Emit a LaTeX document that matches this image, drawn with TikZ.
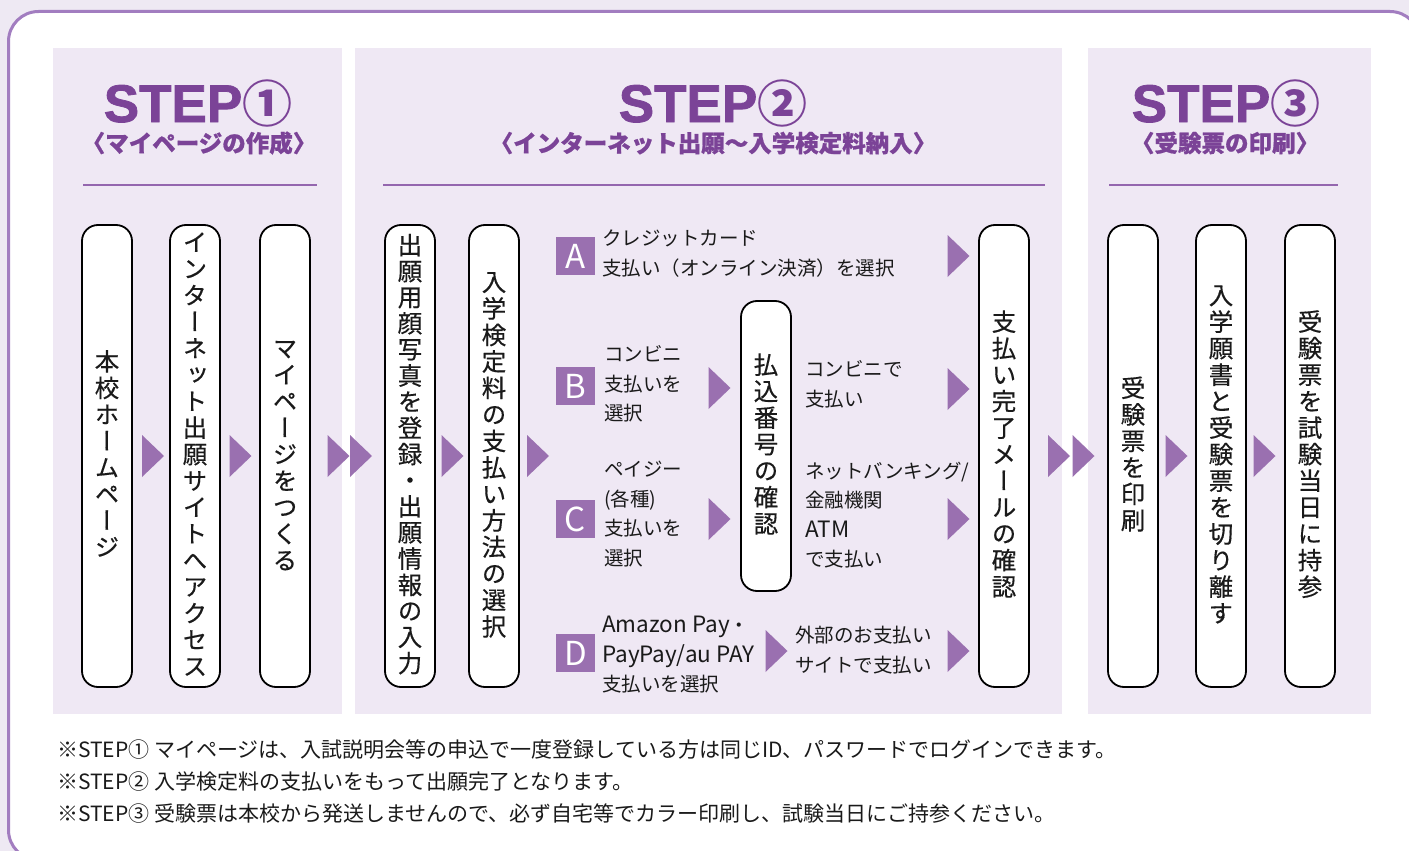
\documentclass[tikz,border=0pt]{standalone}
\usepackage{fontspec}
\setmainfont{Noto Sans CJK JP}
\newfontfamily\jp{Noto Sans CJK JP}
\newfontfamily\jph[BoldFeatures={FakeBold=0.8}]{Noto Sans CJK JP}
\newfontfamily\jpv[RawFeature=+vert, FakeBold=0.4]{Noto Sans CJK JP}
\newfontfamily\lsans[BoldFeatures={FakeBold=1.5}]{Liberation Sans}
\definecolor{titlec}{HTML}{7B4397}
\definecolor{arrowc}{HTML}{9A70B0}
\definecolor{panelc}{HTML}{EFE8F4}
\definecolor{bgc}{HTML}{EEE9F3}
\definecolor{framec}{HTML}{A27DC0}
\definecolor{rulec}{HTML}{9466AE}
\definecolor{inkc}{HTML}{1A1A1A}
\newdimen\vpitch
\def\vtend{vtend-marker}
\newcommand\vtxt[2][26.5pt]{\vbox{\offinterlineskip\vpitch=#1\relax\vtaux#2\vtend}}
\def\vtaux#1{\ifx#1\vtend\else\hbox to 30pt{\hss\vrule height .78\vpitch depth .22\vpitch width 0pt\relax #1\hss}\expandafter\vtaux\fi}
\newcommand\lat[1]{{\fontsize{22.5}{29.5}\selectfont #1}}
\tikzset{
  vbx/.style={draw=black, line width=1.8pt, fill=white, rounded corners=16pt,
    minimum width=50pt, minimum height=462pt, inner sep=0pt, text=inkc,
    font=\jpv\fontsize{24.5}{26}\selectfont},
  lab/.style={fill=arrowc, minimum width=39pt, minimum height=38pt, inner sep=0pt,
    text=white, font=\jp\fontsize{33}{33}\selectfont},
  txt/.style={anchor=west, align=left, inner sep=0pt, text=inkc,
    font=\jp\fontsize{19.5}{29.5}\selectfont},
  note/.style={anchor=base west, inner sep=0pt, text=inkc,
    font=\jp\fontsize{21}{24}\selectfont},
  ttl/.style={anchor=base, inner sep=0pt, text=titlec},
  sub/.style={anchor=base, inner sep=0pt, text=titlec, font=\jph\bfseries\fontsize{23.5}{24}\selectfont},
  tri/.pic={\fill[arrowc] (-11,-21) -- (11,0) -- (-11,21) -- cycle;}
}
\begin{document}
\begin{tikzpicture}[x=1pt,y=-1pt]
\useasboundingbox (0,0) rectangle (1409,851);
\begin{scope}
\clip (0,0) rectangle (1409,851);
\fill[bgc] (0,0) rectangle (1409,851);
\draw[framec, line width=3pt, fill=white, rounded corners=30pt] (8.5,11.5) rectangle (1420,860);
\end{scope}
% panels
\fill[panelc] (53,48) rectangle (342,714);
\fill[panelc] (355,48) rectangle (1062,714);
\fill[panelc] (1088,48) rectangle (1371,714);
% titles
\node[ttl] (s1) at (198,122) {\lsans\bfseries\fontsize{53}{53}\selectfont STEP\jp\fontsize{50}{50}\selectfont ①};
\node[ttl] (s2) at (713,122) {\lsans\bfseries\fontsize{53}{53}\selectfont STEP\jp\fontsize{50}{50}\selectfont ②};
\node[ttl] (s3) at (1226,122) {\lsans\bfseries\fontsize{53}{53}\selectfont STEP\jp\fontsize{50}{50}\selectfont ③};
\node[sub] (u1) at (199,152) {〈マイページの作成〉};
\node[sub] (u2) at (713,152) {〈インターネット出願〜入学検定料納入〉};
\node[sub] (u3) at (1225,152) {〈受験票の印刷〉};
\draw[rulec, line width=1.6pt] (83,185) -- (317,185);
\draw[rulec, line width=1.6pt] (383,185) -- (1045,185);
\draw[rulec, line width=1.6pt] (1109,185) -- (1338,185);
% boxes
\node[vbx] (b1) at (107,456) {\vtxt{本校ホームページ}};
\node[vbx] (b2) at (195,456) {\vtxt{インターネット出願サイトへアクセス}};
\node[vbx] (b3) at (285,456) {\vtxt{マイページをつくる}};
\node[vbx] (b4) at (410,456) {\vtxt[26pt]{出願用顔写真を登録・出願情報の入力}};
\node[vbx] (b5) at (494,456) {\vtxt{入学検定料の支払い方法の選択}};
\node[vbx, minimum height=290pt] (b6) at (766,446) {\vtxt{払込番号の確認}};
\node[vbx] (b7) at (1004,456) {\vtxt{支払い完了メールの確認}};
\node[vbx] (b8) at (1133,456) {\vtxt{受験票を印刷}};
\node[vbx] (b9) at (1221,456) {\vtxt{入学願書と受験票を切り離す}};
\node[vbx] (b10) at (1310,456) {\vtxt{受験票を試験当日に持参}};
% arrows
\pic at (153,456) {tri};
\pic at (240.5,456) {tri};
\pic at (338.5,456) {tri};
\pic at (361,456) {tri};
\pic at (452.5,456) {tri};
\pic at (538,456) {tri};
\pic at (958.5,256) {tri};
\pic at (719.5,388) {tri};
\pic at (958.5,389) {tri};
\pic at (719.5,519) {tri};
\pic at (958.5,519) {tri};
\pic at (776.5,651) {tri};
\pic at (958.5,651) {tri};
\pic at (1059,456) {tri};
\pic at (1083.5,456) {tri};
\pic at (1176.5,456) {tri};
\pic at (1264.5,456) {tri};
% labels
\node[lab] (la) at (575.5,256) {A};
\node[lab] (lb) at (575.5,386) {B};
\node[lab] (lc) at (575.5,519) {C};
\node[lab] (ld) at (575.5,653) {D};
\node[txt] (ta) at (602,253.5) {クレジットカード\\支払い（オンライン決済）を選択};
\node[txt] (tb) at (604,384) {コンビニ\\支払いを\\選択};
\node[txt] (tc) at (604,514) {ペイジー\\(各種)\\支払いを\\選択};
\node[txt] (td) at (602,655) {\lat{Amazon Pay}・\\\lat{PayPay/au PAY}\\支払いを選択};
\node[txt] (tb2) at (805,384.5) {コンビニで\\支払い};
\node[txt] (tc2) at (805,515) {ネットバンキング/\\金融機関\\\lat{ATM}\\で支払い};
\node[txt] (td2) at (795,650) {外部のお支払い\\サイトで支払い};
% notes
\node[note] (n1) at (57,757) {※STEP① マイページは、入試説明会等の申込で一度登録している方は同じID、パスワードでログインできます。};
\node[note] (n2) at (57,789) {※STEP② 入学検定料の支払いをもって出願完了となります。};
\node[note] (n3) at (57,821) {※STEP③ 受験票は本校から発送しませんので、必ず自宅等でカラー印刷し、試験当日にご持参ください。};
\end{tikzpicture}
\end{document}
